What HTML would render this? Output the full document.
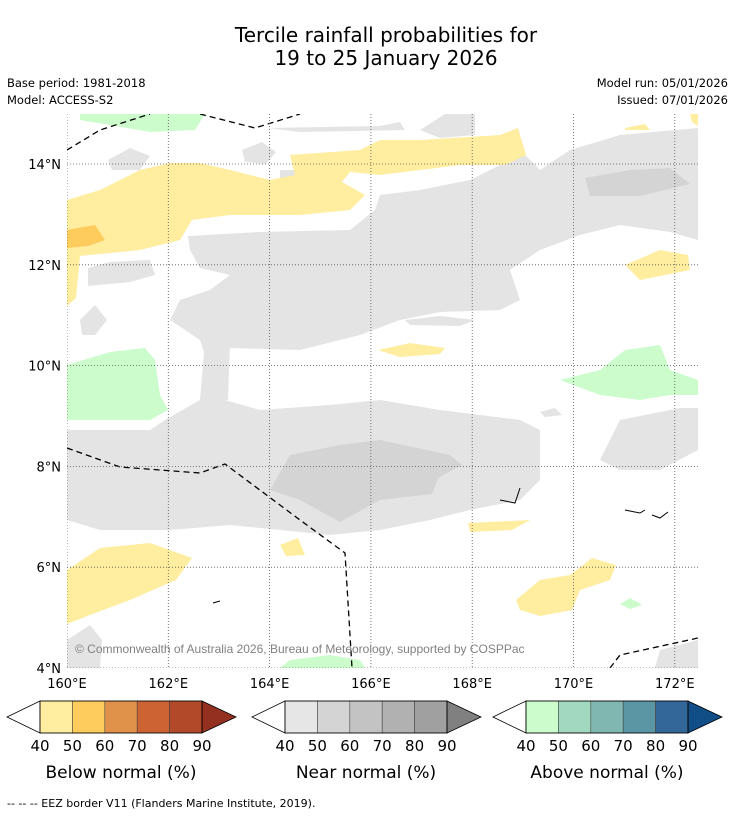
<!DOCTYPE html>
<html><head><meta charset="utf-8"><style>
body{margin:0;background:#fff;width:736px;height:816px;overflow:hidden;font-family:"Liberation Sans","DejaVu Sans",sans-serif}
svg{display:block}
</style></head><body>
<svg id="chart" width="736" height="816" xmlns="http://www.w3.org/2000/svg">
<text x="386" y="42" font-size="20" text-anchor="middle" font-family="DejaVu Sans, sans-serif">Tercile rainfall probabilities for</text>
<text x="386" y="65" font-size="20" text-anchor="middle" font-family="DejaVu Sans, sans-serif">19 to 25 January 2026</text>
<text x="7" y="87" font-size="11.5" font-family="DejaVu Sans, sans-serif">Base period: 1981-2018</text>
<text x="7" y="104" font-size="11.5" font-family="DejaVu Sans, sans-serif">Model: ACCESS-S2</text>
<text x="728" y="87" font-size="11.5" text-anchor="end" font-family="DejaVu Sans, sans-serif">Model run: 05/01/2026</text>
<text x="728" y="104" font-size="11.5" text-anchor="end" font-family="DejaVu Sans, sans-serif">Issued: 07/01/2026</text>
<defs><clipPath id="mapclip"><rect x="67" y="114" width="631" height="554"/></clipPath></defs>
<g clip-path="url(#mapclip)">
<g fill="#e4e4e4">
<path d="M67,430 L150,430 L165,420 L200,400 L205,360 L215,350 L225,365 L225,400 L260,410 L330,405 L380,400 L440,410 L520,420 L540,430 L540,480 L520,500 L470,510 L430,520 L380,530 L330,535 L280,530 L230,525 L170,530 L100,530 L67,520 Z"/>
<path d="M170,320 L180,300 L210,290 L230,275 L200,268 L190,250 L188,236 L260,232 L350,230 L375,210 L380,195 L420,190 L470,180 L500,165 L525,155 L540,170 L570,150 L620,135 L698,128 L698,240 L670,232 L620,225 L580,235 L540,250 L510,270 L520,300 L500,310 L440,312 L400,320 L360,335 L300,350 L230,348 L225,360 L205,355 L200,340 Z"/>
<path d="M205,340 L230,340 L228,400 L200,400 Z"/>
<path d="M600,460 L620,420 L680,408 L698,408 L698,450 L660,470 L620,470 Z"/>
<path d="M67,668 L67,640 L90,625 L102,640 L100,668 Z"/>
<path d="M655,668 L660,650 L698,640 L698,668 Z"/>
<path d="M420,130 L445,114 L475,114 L475,135 L440,138 Z"/>
<path d="M268,128 L380,126 L400,122 L405,130 L300,132 Z"/>
<path d="M242,150 L262,142 L276,152 L266,164 L245,162 Z"/>
<path d="M108,160 L130,148 L150,156 L140,170 L112,170 Z"/>
<path d="M88,268 L110,262 L150,260 L155,275 L130,282 L88,286 Z"/>
<path d="M80,320 L95,305 L107,320 L95,335 L82,335 Z"/>
<path d="M405,320 L440,316 L475,320 L460,326 L410,325 Z"/>
<path d="M540,412 L555,408 L562,415 L545,417 Z"/>
<path d="M280,170 L330,170 L340,180 L335,196 L290,198 L280,185 Z"/>
</g>
<g fill="#d4d4d4">
<path d="M270,490 L290,455 L340,445 L380,440 L450,455 L462,465 L438,478 L432,494 L380,500 L340,522 L300,500 Z"/>
<path d="M585,178 L630,170 L670,168 L690,184 L640,196 L590,196 Z"/>
</g>
<g fill="#ffeda0">
<path d="M290,155 L360,150 L380,140 L420,140 L500,135 L518,128 L526,155 L505,165 L460,165 L420,170 L380,175 L350,172 L342,182 L365,195 L350,210 L300,215 L270,215 L230,215 L192,220 L180,240 L160,245 L140,250 L80,256 L76,298 L67,306 L67,200 L100,190 L140,170 L170,163 L200,163 L230,170 L270,180 L295,175 Z"/>
<path d="M67,570 L100,548 L150,543 L192,558 L176,580 L130,600 L90,615 L67,624 Z"/>
<path d="M378,350 L410,343 L445,348 L440,354 L400,357 Z"/>
<path d="M625,265 L660,250 L688,255 L690,270 L640,280 Z"/>
<path d="M280,545 L298,538 L305,555 L286,556 Z"/>
<path d="M468,523 L530,520 L512,530 L470,532 Z"/>
<path d="M516,600 L540,580 L570,575 L592,558 L616,565 L610,580 L580,590 L572,610 L540,616 L520,610 Z"/>
<path d="M625,128 L645,124 L650,130 L625,130 Z"/>
<path d="M690,114 L698,114 L698,126 L692,122 Z"/>
</g>
<path d="M67,230 L95,225 L105,240 L88,246 L67,248 Z" fill="#fecc5c"/>
<g fill="#ccfccc">
<path d="M80,114 L205,114 L195,130 L150,132 L110,125 L80,120 Z"/>
<path d="M67,365 L110,352 L145,348 L155,360 L160,395 L168,410 L150,420 L67,420 Z"/>
<path d="M560,380 L600,370 L625,350 L660,345 L670,370 L698,380 L698,395 L670,395 L640,400 L600,395 Z"/>
<path d="M280,668 L290,660 L330,655 L360,660 L365,668 Z"/>
<path d="M620,604 L630,598 L642,605 L630,609 Z"/>
</g>
<g fill="none" stroke="#000" stroke-width="1.3" stroke-dasharray="6,4">
<path d="M67,150 L100,130 L150,114"/>
<path d="M200,114 L255,128 L300,114"/>
<path d="M67,448 L120,467 L200,473 L225,464 L300,520 L345,553 L352,668"/>
<path d="M610,668 L620,655 L698,638"/>
</g>
<g fill="none" stroke="#000" stroke-width="1">
<path d="M625,510 L640,513 L645,510 M652,515 L660,518 L668,512 M500,500 L515,503 L520,488 M213,603 L220,601"/>
</g>
<g id="grid"></g>
<text x="75" y="653" font-size="12" fill="#808080">© Commonwealth of Australia 2026, Bureau of Meteorology, supported by COSPPac</text>
</g>
<g id="axes"></g>
<g id="bars"></g>
<text x="7" y="807" font-size="11" font-family="DejaVu Sans, sans-serif">--  --  -- EEZ border V11 (Flanders Marine Institute, 2019).</text>
</svg>
<script>
const lonTicks=[160,162,164,166,168,170,172];
const latTicks=[4,6,8,10,12,14];
const barLabels=[40,50,60,70,80,90];
const belowColors=["#ffeda0","#fecc5c","#e0924a","#cd6232","#b24a2a","#943020"];
const nearColors=["#e6e6e6","#d4d4d4","#c3c3c3","#b1b1b1","#a0a0a0","#808080"];
const aboveColors=["#ccfccc","#a1d8bf","#80b7b0","#5a96a3","#336699","#114d87"];
const barTitles=["Below normal (%)","Near normal (%)","Above normal (%)"];
const NS="http://www.w3.org/2000/svg";
const X=lon=>67+(lon-160)*50.65, Y=lat=>668-(lat-4)*50.4;
function mk(t,a,p){const e=document.createElementNS(NS,t);for(const k in a)e.setAttribute(k,a[k]);p.appendChild(e);return e;}
const grid=document.getElementById('grid'),axes=document.getElementById('axes'),bars=document.getElementById('bars');
lonTicks.forEach(l=>{
 const ln=mk('line',{x1:X(l),x2:X(l),y1:114,y2:668,stroke:'#555','stroke-width':0.8,'stroke-dasharray':'1,2'},grid);
 
 
 const t=mk('text',{x:X(l),y:688,'font-size':13,'text-anchor':'middle','font-family':'DejaVu Sans, sans-serif'},axes);
 t.textContent=l+'°E';
 
 
});
latTicks.forEach(l=>{
 const ln=mk('line',{x1:67,x2:698,y1:Y(l),y2:Y(l),stroke:'#555','stroke-width':0.8,'stroke-dasharray':'1,2'},grid);
 
 
 const t=mk('text',{x:61,y:Y(l)+5,'font-size':13,'text-anchor':'end','font-family':'DejaVu Sans, sans-serif'},axes);
 t.textContent=l+'°N';
 
 
});
[[7,belowColors],[252,nearColors],[493,aboveColors]].forEach(([x0,cols],bi)=>{
 const bx=x0+33,n=barLabels.length-1,w=162/n,y0=701,h=32;
 const g=mk('g',{},bars);
 
 
 mk('path',{d:`M${x0},${y0+h/2} L${bx},${y0} L${bx},${y0+h} Z`,fill:'#fff',stroke:'#000','stroke-width':0.8},g);
 for(let i=0;i<n;i++){
  const r=mk('rect',{x:bx+i*w,y:y0,width:w,height:h,fill:cols[i],stroke:'#444','stroke-width':0.6},g);
  
  
 }
 const ex=bx+n*w;
 mk('path',{d:`M${ex},${y0} L${ex+34},${y0+h/2} L${ex},${y0+h} Z`,fill:cols[5],stroke:'#000','stroke-width':0.8},g);
 mk('rect',{x:bx,y:y0,width:n*w,height:h,fill:'none',stroke:'#000','stroke-width':0.8},g);
 barLabels.forEach((v,i)=>{
  const t=mk('text',{x:bx+i*w,y:751,'font-size':15,'text-anchor':'middle','font-family':'DejaVu Sans, sans-serif'},g);
  t.textContent=v;
  
  
 });
 const tt=mk('text',{x:bx+81,y:778,'font-size':17,'text-anchor':'middle','font-family':'DejaVu Sans, sans-serif'},g);
 tt.textContent=barTitles[bi];
 
 
});
</script>
</body></html>
